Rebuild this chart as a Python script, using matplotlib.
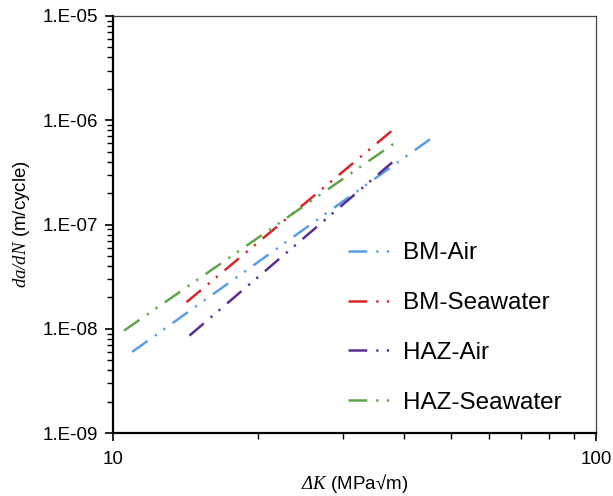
import matplotlib
matplotlib.use("Agg")
import matplotlib.pyplot as plt
from matplotlib.ticker import LogLocator, NullFormatter, FixedLocator, FixedFormatter

plt.rcParams['font.family'] = ['Liberation Sans', 'DejaVu Sans']
plt.rcParams['mathtext.fontset'] = 'custom'
plt.rcParams['mathtext.rm'] = 'Liberation Serif:italic'
plt.rcParams['mathtext.it'] = 'Liberation Serif:italic'
plt.rcParams['lines.scale_dashes'] = False

series_names = ["BM-Air", "BM-Seawater", "HAZ-Air", "HAZ-Seawater"]
colors = ["#5b9ee8", "#d8262b", "#5a2d90", "#5fa64a"]
# endpoints (ΔK, da/dN) of each straight Paris-law line
dK_start = [10.96, 14.2, 14.4, 10.54]
dK_end = [46.4, 38.0, 38.0, 38.6]
rate_start = [6.0e-9, 1.8e-8, 8.6e-9, 9.6e-9]
rate_end = [7.1e-7, 8.1e-7, 4.0e-7, 6.2e-7]

x_ticks = [10, 100]
x_tick_labels = ["10", "100"]
y_ticks = [1e-9, 1e-8, 1e-7, 1e-6, 1e-5]
y_tick_labels = ["1.E-09", "1.E-08", "1.E-07", "1.E-06", "1.E-05"]

W, H = 613, 496
fig = plt.figure(figsize=(W/100, H/100), dpi=100)
ax = fig.add_axes([113/W, 1 - 433/H, (596-113)/W, (433-16)/H])

dash = (0, (13.5, 6.5, 1.6, 6.0, 1.6, 6.5))
for name, c, x0, x1, y0, y1 in zip(series_names, colors, dK_start, dK_end, rate_start, rate_end):
    ax.plot([x0, x1], [y0, y1], color=c, lw=1.8, linestyle=dash, label=name)

ax.set_xscale('log')
ax.set_yscale('log')
ax.set_xlim(10, 100)
ax.set_ylim(1e-9, 1e-5)

ax.xaxis.set_major_locator(FixedLocator(x_ticks))
ax.xaxis.set_major_formatter(FixedFormatter(x_tick_labels))
ax.xaxis.set_minor_locator(LogLocator(base=10, subs=range(2, 10)))
ax.xaxis.set_minor_formatter(NullFormatter())
ax.yaxis.set_major_locator(FixedLocator(y_ticks))
ax.yaxis.set_major_formatter(FixedFormatter(y_tick_labels))
ax.yaxis.set_minor_locator(LogLocator(base=10, subs=range(2, 10)))
ax.yaxis.set_minor_formatter(NullFormatter())

ax.tick_params(which='major', direction='out', length=6, width=1.2, labelsize=13.5, colors='black')
ax.tick_params(which='minor', direction='out', length=4, width=1.0)
ax.tick_params(axis='x', which='major', pad=7)
ax.tick_params(axis='y', which='major', pad=5)

for s in ['left', 'bottom']:
    ax.spines[s].set_linewidth(1.6)
    ax.spines[s].set_color('black')
for s in ['top', 'right']:
    ax.spines[s].set_linewidth(0.9)
    ax.spines[s].set_color('#444444')

ax.set_xlabel(r"$\Delta K$ (MPa√m)", fontsize=13.5, labelpad=3)
ax.set_ylabel(r"$da/dN$ (m/cycle)", fontsize=13.5, labelpad=7)

leg = ax.legend(loc='center left', bbox_to_anchor=(348/W, 1 - 328/H),
                bbox_transform=fig.transFigure, frameon=False,
                fontsize=17.5, handlelength=1.85, handletextpad=0.4, labelspacing=1.14,
                borderaxespad=0, borderpad=0)

fig.savefig("out.png", dpi=100)
